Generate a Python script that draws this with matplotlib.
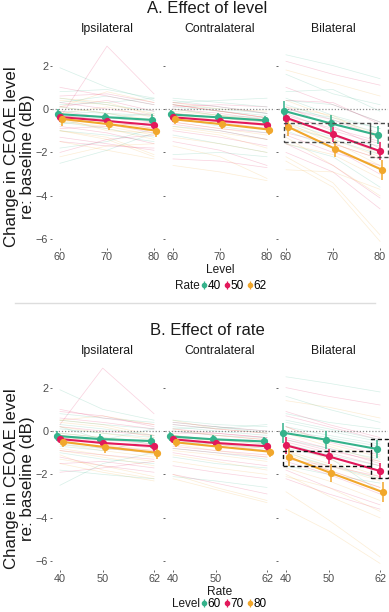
import numpy as np
import matplotlib.pyplot as plt
from matplotlib.patches import Rectangle
from matplotlib.lines import Line2D

plt.rcParams['font.family'] = ['Liberation Sans', 'DejaVu Sans']

levels = [60, 70, 80]
rates = [40, 50, 62]
conditions = ['Ipsilateral', 'Contralateral', 'Bilateral']
colors = ['#35B28B', '#E2195B', '#F1A72C']

# group means (dB), rows = level 60/70/80, cols = rate 40/50/62
ipsi_mean = [[-0.23, -0.37, -0.46], [-0.37, -0.55, -0.70], [-0.50, -0.74, -1.00]]
contra_mean = [[-0.25, -0.38, -0.48], [-0.38, -0.55, -0.70], [-0.52, -0.72, -0.95]]
bilat_mean = [[-0.08, -0.40, -0.83], [-0.66, -1.17, -1.84], [-1.20, -1.94, -2.81]]

ipsi_err = [[0.25, 0.25, 0.30], [0.20, 0.22, 0.25], [0.25, 0.25, 0.30]]
contra_err = [[0.22, 0.20, 0.22], [0.18, 0.20, 0.22], [0.22, 0.22, 0.25]]
bilat_err = [[0.45, 0.42, 0.40], [0.38, 0.36, 0.36], [0.40, 0.40, 0.45]]

# individual listeners, same layout (level x rate)
ipsi_subj = [
    [[0.2, -0.4, 0.1], [0.3, 2.9, 0.8], [0.5, 0.7, 0.3]],
    [[0.8, 0.6, 0.4], [0.9, 0.7, 0.2], [0.5, 0.3, -0.2]],
    [[-1.0, -1.3, -1.5], [-1.2, -1.6, -1.9], [-1.5, -1.9, -2.3]],
    [[0.1, -0.1, -0.3], [-0.2, -0.4, -0.6], [-0.3, -0.6, -0.9]],
    [[-0.6, -0.8, -1.0], [-0.9, -1.1, -1.3], [-1.3, -1.6, -2.1]],
    [[0.5, 0.3, 0.1], [0.2, 0.0, -0.2], [-0.1, -0.3, -0.5]],
    [[-1.8, -2.0, -2.2], [-1.5, -1.4, -1.7], [-0.9, -1.2, -1.6]],
    [[-0.3, -0.4, -0.5], [-0.5, -0.7, -0.9], [-0.8, -1.1, -1.4]],
    [[0.3, 0.1, -0.2], [0.6, 0.4, 0.1], [0.2, -0.1, -0.4]],
    [[-0.1, -0.3, -0.6], [-0.2, -0.5, -0.8], [-0.6, -0.9, -1.2]],
    [[-0.7, -0.9, -0.4], [-0.4, -0.8, -1.0], [-0.2, -0.6, -1.1]],
    [[-2.5, -1.5, -1.0], [-1.9, -1.7, -1.4], [-1.1, -1.8, -2.2]],
    [[1.9, 1.0, 0.5], [1.0, 0.6, 0.3], [0.4, 0.2, -0.3]],
]
contra_subj = [
    [[0.4, 0.2, 0.0], [0.1, -0.1, -0.3], [-0.2, -0.4, -0.6]],
    [[-0.2, -0.4, -0.6], [-0.4, -0.6, -0.9], [-0.6, -0.9, -1.2]],
    [[-1.2, -1.5, -1.7], [-1.6, -1.9, -2.2], [-2.0, -2.6, -3.2]],
    [[0.2, 0.0, -0.2], [0.0, -0.2, -0.4], [-0.2, -0.5, -0.7]],
    [[-0.8, -1.0, -1.3], [-1.0, -1.3, -1.6], [-1.4, -1.7, -2.0]],
    [[0.3, 0.1, 0.3], [0.4, 0.2, 0.0], [0.5, 0.1, -0.1]],
    [[-0.5, -0.6, -0.8], [-0.7, -0.9, -1.1], [-0.9, -1.1, -1.4]],
    [[0.0, -0.2, -0.3], [-0.3, -0.4, -0.5], [-0.4, -0.6, -0.8]],
    [[-2.1, -2.3, -2.6], [-2.0, -2.4, -2.9], [-2.2, -2.7, -3.3]],
    [[0.1, 0.2, -0.1], [-0.1, -0.1, -0.3], [-0.3, -0.4, -0.5]],
    [[-0.4, -0.7, -0.9], [-0.8, -1.0, -1.2], [-1.1, -1.4, -1.8]],
    [[0.5, 0.3, 0.2], [0.3, 0.1, -0.1], [0.1, -0.2, -0.4]],
]
bilat_subj = [
    [[2.5, 2.2, 1.8], [2.0, 1.6, 1.2], [1.4, 1.1, 0.6]],
    [[1.6, 1.0, 0.4], [0.7, 0.2, -0.4], [0.2, -0.6, -1.2]],
    [[0.5, 0.1, -0.4], [-0.3, -0.8, -1.5], [-0.9, -1.8, -2.6]],
    [[-0.4, -0.8, -1.3], [-1.2, -1.8, -2.6], [-2.0, -3.0, -4.0]],
    [[0.8, 0.4, 0.1], [0.9, 0.3, -0.3], [-0.1, -0.7, -1.4]],
    [[-1.0, -1.6, -2.2], [-1.8, -2.6, -3.4], [-2.8, -4.1, -5.8]],
    [[0.2, -0.2, -0.6], [-0.5, -1.0, -1.6], [-1.1, -1.6, -2.3]],
    [[-1.6, -2.0, -2.4], [-2.2, -2.9, -3.6], [-3.6, -4.6, -6.1]],
    [[0.0, -0.3, -0.7], [-0.4, -0.9, -1.4], [-0.9, -1.5, -2.2]],
    [[-0.6, -1.1, -1.6], [-1.3, -1.6, -2.1], [-1.7, -2.3, -3.2]],
    [[0.4, 0.0, -0.5], [0.2, -0.5, -1.1], [-0.6, -1.3, -2.1]],
    [[-0.8, -1.2, -2.8], [-1.4, -2.0, -2.9], [-2.1, -2.6, -3.7]],
]

# highlighted regions in the bilateral panel: (x0, x1, y0, y1)
boxes_level = [(59.6, 77.9, -1.52, -0.65), (77.9, 81.6, -2.2, -0.65)]
boxes_rate = [(39.3, 59.8, -1.61, -0.92), (59.8, 63.8, -2.17, -0.37)]

means = [np.array(ipsi_mean), np.array(contra_mean), np.array(bilat_mean)]
errs = [np.array(ipsi_err), np.array(contra_err), np.array(bilat_err)]
subjs = [np.array(ipsi_subj), np.array(contra_subj), np.array(bilat_subj)]

W, H = 389, 612
fig = plt.figure(figsize=(W / 100, H / 100), dpi=100)

sections = [
    dict(title='A. Effect of level', x=levels, xlim=(58.30, 81.70), dodge=0.53,
         xlabel='Level', legend='Rate', keys=rates, top=39.6, boxes=boxes_level,
         boxcolor='#4a4a4a', transpose=False, leg_y=286),
    dict(title='B. Effect of rate', x=rates, xlim=(38.13, 63.87), dodge=0.59,
         xlabel='Rate', legend='Level', keys=levels, top=361.6, boxes=boxes_rate,
         boxcolor='#111111', transpose=True, leg_y=604),
]

panel_h = 208.3
for s in sections:
    bottom = 1 - (s['top'] + panel_h) / H
    x = np.array(s['x'], dtype=float)
    for c in range(3):
        left = (52 + c * 113) / W
        ax = fig.add_axes([left, bottom, 110 / W, panel_h / H])
        m = means[c].T if s['transpose'] else means[c]
        e = errs[c].T if s['transpose'] else errs[c]
        sub = subjs[c].transpose(0, 2, 1) if s['transpose'] else subjs[c]
        # individual listeners
        for p in sub:
            for k in range(3):
                ax.plot(x, p[:, k], color=colors[k], lw=0.5, alpha=0.2, zorder=1)
        ax.axhline(0, color='#8c8c8c', lw=0.9, ls=(0, (1, 1.5)), zorder=2)
        # group means with error bars
        for k in range(3):
            xd = x + (k - 1) * s['dodge']
            ax.errorbar(xd, m[:, k], yerr=e[:, k], color=colors[k], lw=1.5,
                        marker='o', ms=4.2, elinewidth=1.1, capsize=0, zorder=3)
        if c == 2:
            for (x0, x1, y0, y1) in s['boxes']:
                ax.add_patch(Rectangle((x0, y0), x1 - x0, y1 - y0, fill=False,
                                       ec=s['boxcolor'], lw=1.0, ls=(0, (3, 2)),
                                       zorder=4, clip_on=False))
        ax.set_xlim(*s['xlim'])
        ax.set_ylim(-6.4, 3.2)
        ax.set_xticks(x)
        ax.set_xticklabels([str(v) for v in s['x']])
        ax.set_yticks([-6, -4, -2, 0, 2])
        if c > 0:
            ax.set_yticklabels([])
            ax.tick_params(axis='y', length=0)
        ax.tick_params(labelsize=7.8, labelcolor='#4d4d4d', color='#4d4d4d',
                       length=1.5, width=0.6, pad=1.2)
        for sp in ax.spines.values():
            sp.set_visible(False)
        ax.set_facecolor('none')
        fig.text((107 + c * 113) / W, 1 - (s['top'] - 11) / H, conditions[c],
                 ha='center', va='center', fontsize=8.8, color='#1a1a1a')

    ytop = s['top']
    fig.text(207 / W, 1 - (ytop - 31) / H, s['title'], ha='center', va='center',
             fontsize=12, color='#1a1a1a')
    fig.text(220 / W, 1 - (ytop + 230.5) / H, s['xlabel'], ha='center', va='center',
             fontsize=8.6, color='#1a1a1a')
    fig.text(19.5 / W, 1 - (ytop + 117) / H, 'Change in CEOAE level\nre: baseline (dB)',
             rotation=90, ha='center', va='center', fontsize=12.2, linespacing=1.05,
             color='#1a1a1a')
    ly = 1 - s['leg_y'] / H
    fig.text(200 / W, ly, s['legend'], ha='right', va='center', fontsize=8.5,
             color='#1a1a1a')
    handles = [(Line2D([], [], color=col, marker='o', ms=3.0, ls=''),
                Line2D([], [], color=col, marker='|', ms=6, mew=0.9, ls=''))
               for col in colors]
    fig.legend(handles, [str(v) for v in s['keys']], ncol=3, loc='center left',
               bbox_to_anchor=(201 / W, ly), frameon=False, handlelength=0.45,
               handletextpad=0.12, columnspacing=0.25, fontsize=8.5,
               borderpad=0, borderaxespad=0)

fig.add_artist(Line2D([15 / W, 375 / W], [1 - 303 / H, 1 - 303 / H],
                      color='#dddddd', lw=1.0))

fig.savefig('out.png', dpi=100)
